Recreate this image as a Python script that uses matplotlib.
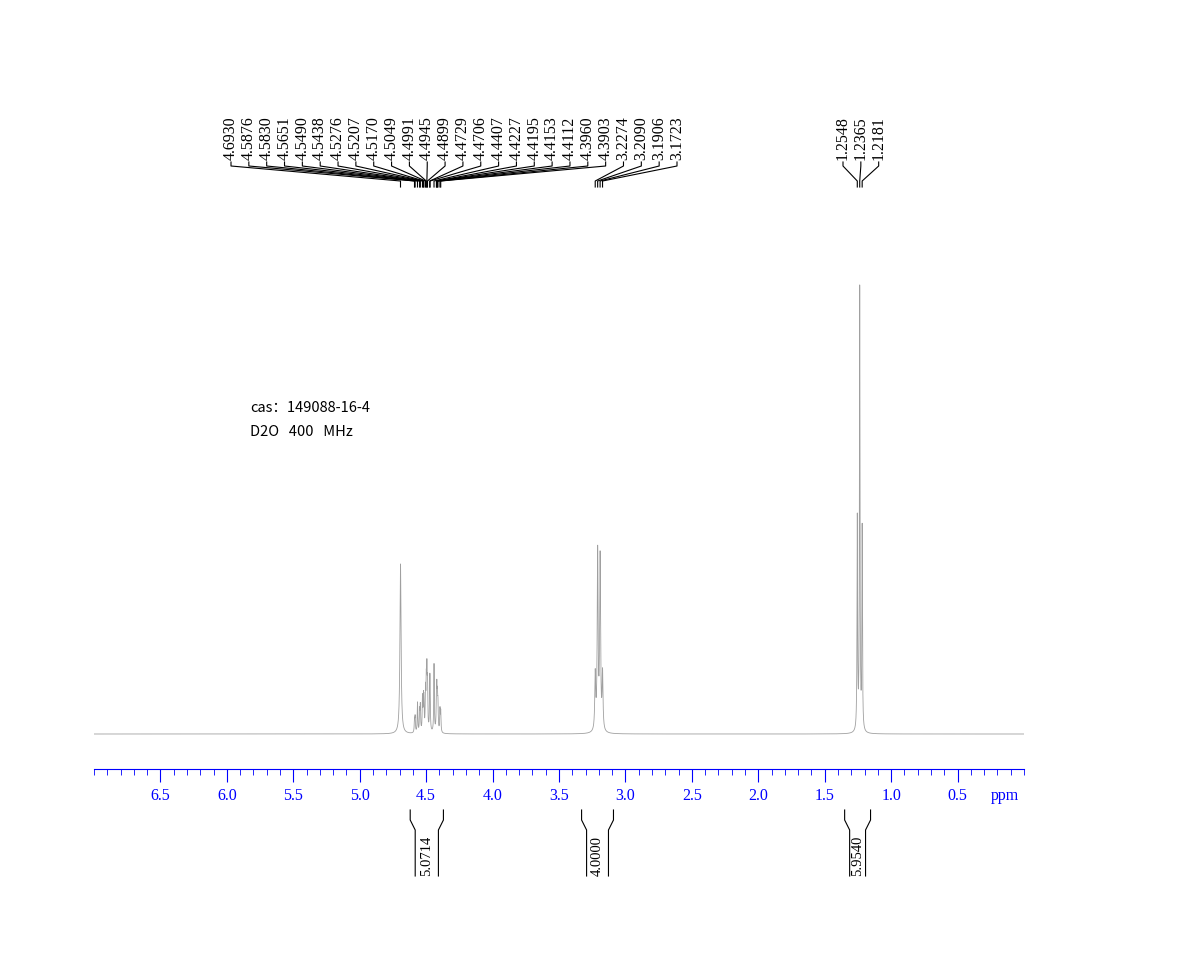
import numpy as np
import matplotlib
matplotlib.use("Agg")
import matplotlib.pyplot as plt
from matplotlib.ticker import MultipleLocator

# peak list (ppm) and approximate intensities
peaks_ppm = [4.6930, 4.5876, 4.5830, 4.5651, 4.5490, 4.5438, 4.5276, 4.5207, 4.5170,
             4.5049, 4.4991, 4.4945, 4.4899, 4.4729, 4.4706, 4.4407, 4.4227, 4.4195,
             4.4153, 4.4112, 4.3960, 4.3903, 3.2274, 3.2090, 3.1906, 3.1723,
             1.2548, 1.2365, 1.2181]
peaks_int = [170, 12, 15, 30, 20, 25, 33, 28, 26, 38, 42, 52, 42, 36, 34, 68, 28, 33,
             28, 24, 22, 20, 55, 178, 172, 56, 212, 442, 202]
label_groups = [list(range(0, 26)), list(range(26, 29))]
integ_ranges = [(4.62, 4.37), (3.33, 3.09), (1.35, 1.155)]
integ_values = ["5.0714", "4.0000", "5.9540"]

W, H = 1193, 967
fig = plt.figure(figsize=(W/100, H/100), dpi=100)
x0, x1 = 94, 1024
ytop, ybot = 80, 769
ax = fig.add_axes([x0/W, 1-ybot/H, (x1-x0)/W, (ybot-ytop)/H])
ax.set_xlim(7.0, 0.0)
ax.set_ylim(-35, 654)
base = 734  # pixel of baseline; data y = base - pixel

x = np.linspace(7.0, 0.0, 40000)
y = np.zeros_like(x)
for p, a in zip(peaks_ppm, peaks_int):
    if p > 4.6:
        w = 0.005
    elif p < 3.3 and p > 3.0:
        w = 0.004
    else:
        w = 0.0025
    y += a * w**2 / ((x - p)**2 + w**2)
ax.plot(x, y, color="#a0a0a0", lw=0.6)

for s in ["left", "right", "top"]:
    ax.spines[s].set_visible(False)
ax.spines["bottom"].set_color("blue")
ax.set_yticks([])
ax.xaxis.set_minor_locator(MultipleLocator(0.1))
ax.tick_params(axis="x", which="major", length=9, color="blue", labelcolor="blue",
               labelsize=11.5, pad=5, direction="out")
ax.tick_params(axis="x", which="minor", length=4, color="blue")
ax.set_xticks(np.arange(0.5, 7.0, 0.5))
ax.set_xticklabels([f"{v:.1f}" for v in np.arange(0.5, 7.0, 0.5)], family="Liberation Serif")
ax.text(0.25, base - 796, "ppm", color="blue", fontsize=11.5, family="Liberation Serif",
        va="center", ha="left", clip_on=False)

ppm_per_px = 7.0 / (x1 - x0)
def dy(pix):
    return base - pix

# peak labels
label_starts_px = [231, 843]
for grp, sx in zip(label_groups, label_starts_px):
    for k, i in enumerate(grp):
        lx = 7.0 - (sx + k * 17.84 - x0) * ppm_per_px
        p = peaks_ppm[i]
        ax.plot([p, p, lx, lx], [dy(187), dy(181), dy(166), dy(162)], color="black",
                lw=0.8, clip_on=False)
        ax.text(lx, dy(160), f"{p:.4f}", rotation=90, ha="center", va="bottom",
                fontsize=11.5, family="Liberation Serif", clip_on=False)

# integrals
d = 5 * ppm_per_px
for (a, b), v in zip(integ_ranges, integ_values):
    ax.plot([a, a, a - d, a - d], [dy(810), dy(820), dy(830), dy(876)], color="black", lw=0.8, clip_on=False)
    ax.plot([b, b, b + d, b + d], [dy(810), dy(820), dy(830), dy(876)], color="black", lw=0.8, clip_on=False)
    ax.text((a + b) / 2, dy(876), v, rotation=90, ha="center", va="bottom",
            fontsize=10.5, family="Liberation Serif", clip_on=False)

fig.text(250/W, 1-408/H, "cas：149088-16-4", fontsize=10.5, va="center",
         family=["Noto Sans CJK SC", "DejaVu Sans"])
fig.text(250/W, 1-432/H, "D2O   400   MHz", fontsize=10.5, va="center",
         family=["Noto Sans CJK SC", "DejaVu Sans"])

fig.savefig("out.png", dpi=100)
